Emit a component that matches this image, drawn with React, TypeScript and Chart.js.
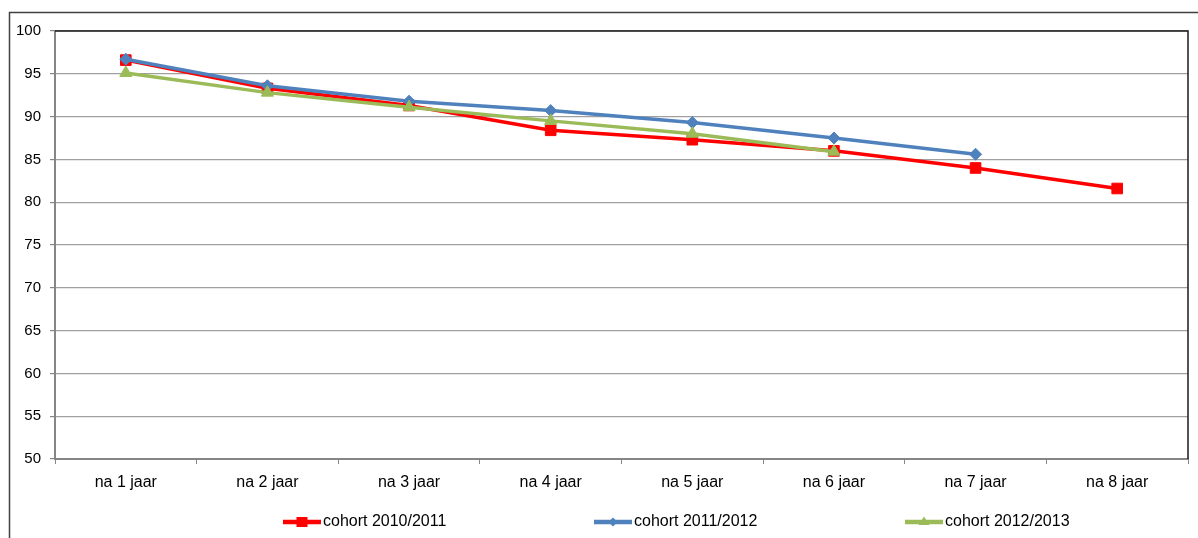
import React, { useEffect, useRef } from "react";
import { Chart, registerables } from "chart.js";

Chart.register(...registerables);

const categories = ["na 1 jaar", "na 2 jaar", "na 3 jaar", "na 4 jaar", "na 5 jaar", "na 6 jaar", "na 7 jaar", "na 8 jaar"];
const cohort2010 = [96.6, 93.3, 91.3, 88.4, 87.3, 86.0, 84.0, 81.6];
const cohort2011 = [96.7, 93.6, 91.8, 90.7, 89.3, 87.5, 85.6, null];
const cohort2012 = [95.1, 92.8, 91.1, 89.5, 88.0, 85.9, null, null];
const seriesNames = ["cohort 2010/2011", "cohort 2011/2012", "cohort 2012/2013"];
const yMin = 50;
const yMax = 100;
const yStep = 5;

const FONT = '"Liberation Sans", Arial, sans-serif';
const RED = "#FF0000";
const BLUE = "#4F81BD";
const GREEN = "#9BBB59";

const framePlugin = {
  id: "frame",
  beforeDraw(chart: any) {
    const ctx = chart.ctx;
    ctx.save();
    ctx.fillStyle = "#ffffff";
    ctx.fillRect(0, 0, chart.width, chart.height);
    ctx.strokeStyle = "#404040";
    ctx.lineWidth = 1.5;
    ctx.beginPath();
    ctx.moveTo(9.5, chart.height);
    ctx.lineTo(9.5, 12.5);
    ctx.lineTo(chart.width, 12.5);
    ctx.stroke();
    ctx.restore();
  },
  afterDraw(chart: any) {
    const ctx = chart.ctx;
    const a = chart.chartArea;
    ctx.save();
    ctx.strokeStyle = "#1a1a1a";
    ctx.lineWidth = 1.5;
    ctx.beginPath();
    ctx.moveTo(a.left, a.top);
    ctx.lineTo(a.right, a.top);
    ctx.lineTo(a.right, a.bottom);
    ctx.stroke();

    // legend
    const starts = [283, 594, 905];
    const y = 522;
    ctx.font = `16px ${FONT}`;
    ctx.textBaseline = "middle";
    ctx.textAlign = "left";
    chart.data.datasets.forEach((ds: any, i: number) => {
      const x1 = starts[i];
      const x2 = x1 + 38;
      const cx = (x1 + x2) / 2;
      ctx.strokeStyle = ds.borderColor;
      ctx.lineWidth = 4.5;
      ctx.beginPath();
      ctx.moveTo(x1, y);
      ctx.lineTo(x2, y);
      ctx.stroke();
      ctx.fillStyle = ds.borderColor;
      ctx.beginPath();
      if (ds.pointStyle === "rect") {
        ctx.rect(cx - 5.5, y - 5, 11, 10);
      } else if (ds.pointStyle === "rectRot") {
        ctx.moveTo(cx, y - 4.5);
        ctx.lineTo(cx + 4.5, y);
        ctx.lineTo(cx, y + 4.5);
        ctx.lineTo(cx - 4.5, y);
        ctx.closePath();
      } else {
        ctx.moveTo(cx, y - 5.5);
        ctx.lineTo(cx + 5.5, y + 3);
        ctx.lineTo(cx - 5.5, y + 3);
        ctx.closePath();
      }
      ctx.fill();
      ctx.fillStyle = "#000000";
      ctx.fillText(ds.label, x2 + 2, y);
    });
    ctx.restore();
  },
};

export default function App() {
  const ref = useRef<HTMLCanvasElement | null>(null);

  useEffect(() => {
    if (!ref.current) return;
    const chart = new Chart(ref.current, {
      type: "line",
      data: {
        labels: categories,
        datasets: [
          {
            label: seriesNames[0],
            data: cohort2010,
            borderColor: RED,
            backgroundColor: RED,
            borderWidth: 3.5,
            pointStyle: "rect",
            pointRadius: 7.5,
            pointBorderWidth: 1,
            order: 3,
            tension: 0,
          },
          {
            label: seriesNames[1],
            data: cohort2011,
            borderColor: BLUE,
            backgroundColor: BLUE,
            borderWidth: 3.5,
            pointStyle: "rectRot",
            pointRadius: 6,
            pointBorderWidth: 1,
            order: 2,
            tension: 0,
          },
          {
            label: seriesNames[2],
            data: cohort2012,
            borderColor: GREEN,
            backgroundColor: GREEN,
            borderWidth: 3.5,
            pointStyle: "triangle",
            pointRadius: 7,
            pointBorderWidth: 1,
            order: 1,
            tension: 0,
          },
        ],
      },
      options: {
        responsive: false,
        animation: false,
        devicePixelRatio: 1,
        layout: { padding: { left: 0, top: 31, right: 10, bottom: 0 } },
        plugins: {
          legend: { display: false },
          tooltip: { enabled: false },
        },
        scales: {
          x: {
            type: "category",
            offset: true,
            afterFit(scale: any) {
              scale.height = 79;
            },
            grid: {
              offset: true,
              drawOnChartArea: false,
              drawTicks: true,
              tickLength: 5,
              color: "#868686",
              lineWidth: 1,
            },
            border: { display: true, color: "#868686", width: 2 },
            ticks: {
              color: "#000000",
              font: { family: FONT, size: 16 },
              padding: 9,
              maxRotation: 0,
              autoSkip: false,
            },
          },
          y: {
            min: yMin,
            max: yMax,
            afterFit(scale: any) {
              scale.width = 55;
            },
            grid: {
              color: "#a0a0a0",
              lineWidth: 1.2,
              drawTicks: true,
              tickLength: 5,
              tickColor: "#868686",
            },
            border: { display: true, color: "#868686", width: 2 },
            ticks: {
              stepSize: yStep,
              color: "#000000",
              font: { family: FONT, size: 15 },
              padding: 9,
            },
          },
        },
      },
      plugins: [framePlugin],
    });
    return () => chart.destroy();
  }, []);

  return (
    <div style={{ position: "fixed", left: 0, top: 0, width: 1198, height: 538, background: "#fff" }}>
      <canvas ref={ref} width={1198} height={538} style={{ display: "block", width: 1198, height: 538 }} />
    </div>
  );
}
